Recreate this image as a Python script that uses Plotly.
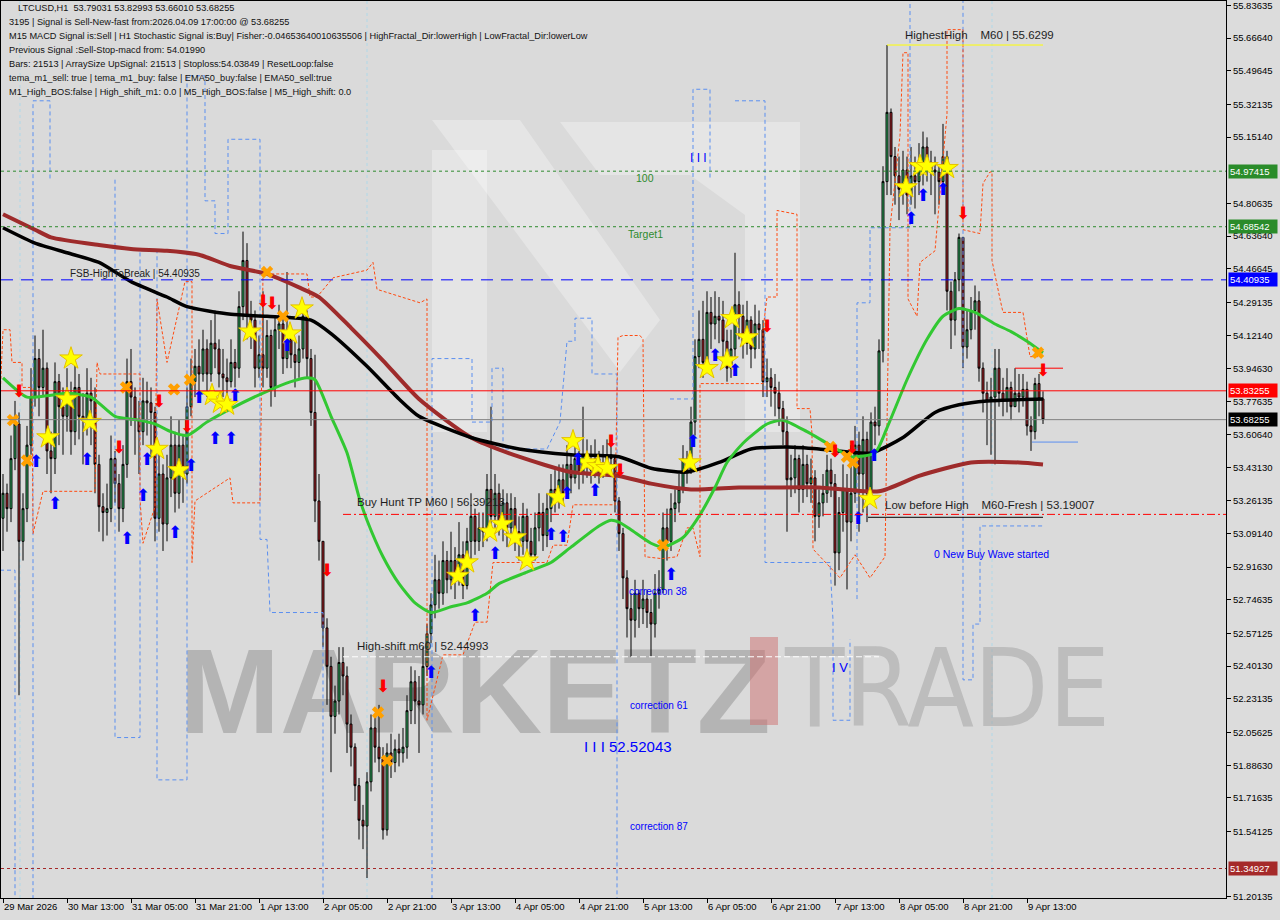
import plotly.graph_objects as go

# ---------------- data (hourly bars, bar 0 = 29 Mar 2026 21:00) ----------------
first_open = 53.17
close = [
    53.30, 53.22, 53.48, 53.66, 53.05, 53.22, 53.55, 53.80, 54.00, 53.85,
    53.95, 53.52, 53.48, 53.88, 53.75, 53.70, 53.80, 53.62, 53.85, 53.70,
    53.68, 53.82, 53.78, 53.45, 53.23, 53.20, 53.22, 53.48, 53.35, 53.22,
    53.45, 53.88, 53.80, 53.68, 53.62, 53.78, 53.77, 53.72, 53.17, 53.40,
    53.14, 53.38, 53.55, 53.30, 53.55, 53.40, 53.75, 53.88, 53.96, 53.92,
    54.05, 53.92, 54.08, 54.05, 53.92, 53.90, 53.88, 53.98, 53.95, 54.27,
    54.51, 54.22, 54.20, 53.95, 54.02, 53.95, 54.12, 53.85, 54.15, 54.18,
    54.00, 54.10, 54.02, 53.98, 54.05, 54.22, 54.00, 53.72, 53.26, 53.05,
    52.60, 52.40, 52.14, 52.22, 52.42, 52.35, 52.10, 51.98, 51.78, 51.60,
    51.57, 51.80, 52.08, 51.98, 51.92, 51.55, 51.95, 51.90, 51.97, 51.95,
    51.98, 52.17, 52.32, 52.22, 52.20, 52.40, 52.57, 52.72, 52.85, 52.78,
    52.95, 52.85, 52.95, 52.88, 52.98, 52.82, 53.05, 53.18, 53.05, 53.12,
    53.10, 53.32, 53.18, 53.30, 53.15, 53.25, 53.12, 53.22, 53.10, 53.05,
    53.18, 53.05, 52.98, 53.12, 53.20, 53.08, 53.22, 53.32, 53.28, 53.37,
    53.30, 53.45, 53.38, 53.48, 53.40, 53.50, 53.45, 53.42, 53.48, 53.40,
    53.45, 53.50, 53.48, 53.26, 53.09, 52.86, 52.70, 52.64, 52.78, 52.70,
    52.75, 52.68, 52.62, 52.78, 52.80, 53.12, 53.05, 53.22, 53.25, 53.32,
    53.48, 53.42, 53.67, 54.01, 54.10, 53.98, 54.24, 54.18, 54.22, 54.20,
    54.09, 53.95, 54.05, 54.28, 54.22, 54.08, 54.20, 54.05, 54.18, 54.15,
    53.88, 53.90, 53.85, 53.82, 53.74, 53.62, 53.37, 53.38, 53.48, 53.32,
    53.45, 53.35, 53.38, 53.18, 53.25, 53.30, 53.42, 53.35, 52.99, 53.20,
    53.32, 53.15, 53.30, 53.55, 53.40, 53.58, 53.30, 53.67, 53.65, 54.04,
    54.92, 55.28, 55.05, 54.95, 54.88, 54.98, 54.85, 54.95, 54.92, 54.98,
    55.10, 55.02, 54.98, 54.97, 54.92, 55.05, 54.35, 54.20, 54.41, 54.63,
    54.06, 54.15, 54.25, 54.30, 53.95, 53.82, 53.78, 53.80, 53.95, 53.82,
    53.78, 53.85, 53.75, 53.82, 53.80, 53.84, 53.65, 53.62, 53.87, 53.79031,
    53.68255,
]
high = [
    53.40, 53.35, 53.60, 53.78, 53.72, 53.30, 53.65, 53.95, 54.12, 54.05,
    54.15, 53.98, 53.62, 53.98, 53.92, 53.85, 53.95, 53.88, 54.00, 53.92,
    53.82, 53.95, 53.90, 53.85, 53.50, 53.30, 53.35, 53.60, 53.52, 53.40,
    53.55, 54.00, 54.05, 53.85, 53.78, 53.90, 53.88, 53.85, 53.75, 53.55,
    53.45, 53.50, 53.70, 53.62, 53.68, 53.60, 53.85, 54.00, 54.05, 54.10,
    54.15, 54.10, 54.20, 54.25, 54.10, 54.05, 54.00, 54.10, 54.05, 54.35,
    54.66, 54.60, 54.30, 54.25, 54.12, 54.35, 54.20, 54.15, 54.22, 54.28,
    54.22, 54.45, 54.15, 54.10, 54.12, 54.30, 54.25, 54.05, 54.02, 53.40,
    53.05, 52.65, 52.45, 52.30, 52.50, 52.50, 52.40, 52.15, 52.00, 51.82,
    51.68, 51.85, 52.15, 52.15, 52.20, 51.98, 52.00, 52.05, 52.02, 52.05,
    52.08, 52.25, 52.40, 52.38, 52.35, 52.50, 52.62, 52.78, 52.98, 52.95,
    53.05, 53.00, 53.10, 53.02, 53.15, 53.05, 53.12, 53.30, 53.22, 53.20,
    53.20, 53.40, 53.75, 53.40, 53.35, 53.32, 53.30, 53.30, 53.28, 53.18,
    53.25, 53.22, 53.12, 53.20, 53.30, 53.25, 53.30, 53.40, 53.42, 53.45,
    53.45, 53.55, 53.50, 53.58, 53.52, 53.75, 53.58, 53.55, 53.58, 53.52,
    53.55, 53.58, 53.60, 53.50, 53.28, 53.12, 52.90, 52.78, 52.85, 52.80,
    52.85, 52.80, 52.75, 52.88, 52.90, 53.20, 53.22, 53.30, 53.32, 53.40,
    53.55, 53.52, 53.75, 54.10, 54.25, 54.30, 54.35, 54.32, 54.35, 54.32,
    54.30, 54.15, 54.15, 54.55, 54.35, 54.28, 54.30, 54.22, 54.28, 54.25,
    54.20, 54.00, 53.95, 53.92, 53.88, 53.78, 53.70, 53.50, 53.55, 53.50,
    53.55, 53.50, 53.48, 53.42, 53.32, 53.40, 53.50, 53.48, 53.40, 53.28,
    53.45, 53.40, 53.55, 53.65, 53.62, 53.70, 53.62, 53.72, 53.75, 54.10,
    55.00, 55.63, 55.30, 55.10, 55.05, 55.08, 55.05, 55.10, 55.05, 55.12,
    55.18, 55.15, 55.08, 55.05, 55.00, 55.22, 55.08, 54.40, 54.45, 54.65,
    54.63, 54.25, 54.32, 54.38, 54.35, 53.98, 53.88, 53.90, 54.05, 54.05,
    53.90, 53.95, 53.88, 53.95, 53.92, 53.92, 53.88, 53.70, 53.90, 53.92,
    53.82993,
]
low = [
    53.00, 53.10, 53.15, 53.42, 52.25, 52.95, 53.15, 53.50, 53.75, 53.70,
    53.80, 53.40, 53.30, 53.40, 53.55, 53.50, 53.62, 53.50, 53.55, 53.58,
    53.45, 53.60, 53.55, 53.30, 53.10, 53.05, 53.08, 53.15, 53.25, 53.10,
    53.15, 53.38, 53.65, 53.50, 53.40, 53.55, 53.60, 53.50, 53.05, 53.10,
    53.00, 53.05, 53.28, 53.20, 53.22, 53.25, 53.35, 53.70, 53.80, 53.82,
    53.88, 53.80, 53.88, 53.95, 53.85, 53.80, 53.78, 53.85, 53.85, 53.90,
    54.20, 54.10, 54.05, 53.85, 53.90, 53.85, 53.90, 53.75, 53.80, 54.05,
    53.92, 53.95, 53.95, 53.85, 53.90, 54.00, 53.90, 53.65, 53.15, 52.95,
    52.50, 52.20, 51.85, 52.05, 52.15, 52.25, 51.95, 51.88, 51.70, 51.50,
    51.45, 51.30, 51.75, 51.90, 51.85, 51.50, 51.52, 51.82, 51.85, 51.88,
    51.90, 51.92, 52.10, 52.10, 51.95, 52.15, 52.35, 52.52, 52.65, 52.70,
    52.72, 52.78, 52.80, 52.75, 52.82, 52.75, 52.80, 52.95, 52.98, 53.00,
    53.02, 53.05, 53.10, 53.12, 53.08, 53.05, 53.02, 53.05, 53.00, 52.95,
    52.98, 52.95, 52.92, 52.95, 53.05, 53.00, 53.02, 53.15, 53.20, 53.22,
    53.25, 53.28, 53.30, 53.35, 53.32, 53.35, 53.38, 53.35, 53.38, 53.35,
    53.38, 53.40, 53.40, 53.20, 53.00, 52.75, 52.55, 52.45, 52.55, 52.60,
    52.62, 52.60, 52.45, 52.55, 52.70, 52.78, 52.95, 53.00, 53.15, 53.20,
    53.30, 53.35, 53.40, 53.60, 53.95, 53.90, 53.95, 54.05, 54.10, 54.08,
    54.00, 53.88, 53.90, 54.00, 54.10, 54.00, 54.02, 53.95, 54.00, 54.05,
    53.80, 53.80, 53.75, 53.70, 53.65, 53.55, 53.10, 53.28, 53.30, 53.20,
    53.25, 53.28, 53.25, 53.05, 53.12, 53.18, 53.25, 53.28, 52.82, 52.90,
    53.10, 52.80, 53.05, 53.25, 53.10, 53.20, 53.15, 53.25, 53.55, 53.60,
    53.98, 54.85, 54.85, 54.80, 54.72, 54.80, 54.75, 54.80, 54.78, 54.85,
    54.90, 54.92, 54.85, 54.75, 54.80, 54.88, 54.25, 54.05, 54.12, 54.35,
    53.95, 54.00, 54.10, 54.15, 53.88, 53.72, 53.55, 53.50, 53.45, 53.75,
    53.70, 53.72, 53.68, 53.75, 53.72, 53.75, 53.60, 53.52, 53.58, 53.70,
    53.66010,
]
bar_index = list(range(len(close)))
open_ = [first_open] + close[:-1]

# moving averages (read at sample bars)
ma_black_bar = [0, 8, 16, 24, 32, 41, 46, 57, 66, 77, 82, 91, 99, 104, 117, 129, 142, 154, 162, 171,
                179, 187, 196, 204, 217, 225, 233, 239, 246, 260]
ma_black_val = [54.68, 54.60, 54.55, 54.50, 54.40, 54.32, 54.27, 54.23, 54.22, 54.20, 54.13, 53.96,
                53.79, 53.70, 53.59, 53.53, 53.50, 53.49, 53.43, 53.41, 53.46, 53.53, 53.54, 53.53,
                53.51, 53.59, 53.72, 53.76, 53.78, 53.79]
ma_brown_bar = [0, 8, 12, 24, 32, 41, 49, 57, 66, 74, 79, 87, 95, 104, 117, 129, 142, 154, 162, 172,
                184, 192, 204, 219, 229, 242, 254, 260]
ma_brown_val = [54.75, 54.67, 54.63, 54.59, 54.57, 54.56, 54.54, 54.48, 54.44, 54.37, 54.32, 54.16,
                53.99, 53.79, 53.59, 53.49, 53.41, 53.39, 53.35, 53.32, 53.33, 53.33, 53.33, 53.31,
                53.39, 53.46, 53.46, 53.45]
ma_green_bar = [0, 6, 12, 16, 22, 28, 34, 38, 42, 46, 51, 57, 66, 72, 76, 78, 82, 86, 89, 91,
                95, 99, 103, 107, 112, 116, 121, 124, 131, 137, 142, 149, 152, 154, 157, 162, 165, 170,
                174, 178, 181, 185, 191, 195, 201, 206, 212, 218, 221, 226, 231, 235, 239, 243, 248,
                252, 256, 260]
ma_green_val = [53.90, 53.80, 53.81, 53.82, 53.80, 53.70, 53.68, 53.66, 53.62, 53.60, 53.67, 53.74,
                53.83, 53.88, 53.90, 53.89, 53.70, 53.51, 53.28, 53.16, 52.97, 52.83, 52.73, 52.68,
                52.71, 52.73, 52.78, 52.83, 52.89, 52.94, 53.02, 53.13, 53.16, 53.15, 53.11, 53.04,
                53.02, 53.07, 53.18, 53.33, 53.46, 53.56, 53.66, 53.68, 53.62, 53.56, 53.49, 53.51,
                53.64, 53.89, 54.10, 54.22, 54.26, 54.24, 54.18, 54.14, 54.09, 54.03]

# step channel lines (None = break)
blue_step_bar = [-0.75, 3, 3, None,
                 7.5, 7.5, 11.75, 11.75, None,
                 28, 28, 34.25, 34.25, 38.5, 38.5, 46, 46, 50.5, 50.5, 53, 53, 56.25, 56.25, 64.25,
                 64.25, 66, 66.75, 80, 80, None,
                 107.25, 107.25, 117.25, 117.25, 122.25, 122.25, 125, 125, 136, 139.25, 141, 143, 143,
                 147.25, 147.25, 153.5, 153.5, None,
                 166.75, 172.5, 172.5, 176.75, 176.75, None,
                 183, 190.5, 190.5, 206.75, 207.5, 207.5, 211.75, 211.75, None,
                 213.5, 213.5, 216.75, 216.75, 226.75, 226.75, None,
                 240, 240, 242.5, 242.5, 244.25, 244.25, 260]
blue_step_val = [52.90, 52.90, 51.19, None,
                 51.19, 55.34, 55.34, 54.93, None,
                 54.93, 52.03, 52.03, 54.56, 54.56, 51.81, 51.81, 55.47, 55.47, 54.82, 54.82, 54.65,
                 54.65, 55.14, 55.14, 53.06, 53.06, 52.68, 52.68, 51.19, None,
                 51.19, 54.00, 54.00, 53.67, 53.67, 53.95, 53.95, 53.53, 53.53, 53.67, 54.09, 54.09,
                 54.21, 54.21, 53.92, 53.92, 51.19, None,
                 53.79, 53.79, 55.40, 55.40, 54.93, None,
                 55.34, 55.34, 52.94, 52.94, 52.64, 52.12, 52.12, 52.54, None,
                 52.75, 54.29, 54.29, 54.68, 54.68, 55.87, None,
                 55.87, 52.33, 52.33, 52.62, 52.62, 53.13, 53.13]
orange_step_bar = [-0.75, 0, 1.75, 2.25, 4.75, 4.75, 7.25, 7.5, 10, 23, 23.5, 24.25, 34.25, 34.25, 35,
                   38, 38.5, 41, 45.5, 47.25, 47.25, 48, 56.75, 57.5, 64.25, 65, 76, 76.75, 78.5,
                   82.5, 91, 92.5, 93.5, 104.25, 106, 106, 110, 115, 118, 121, 122.5, 136, 137.5, 141,
                   142.5, 153, 153.75, 155, 159.25, 160, 160.5, 164.75, 168.5, 171, 172.5, 174.25,
                   174.25, 190, 190, 191, 193.5, 193.5, 198.5, 198.5, 201.75, 202.25, 202.5, 209.25,
                   213, 216.75, 220.5, 221.75, 224.25, 225, 226.25, 226.25, 228.5, 229.25, 233, 236,
                   236, 240, 240, 244.25, 245, 246.75, 247.25, 247.25, 249.25, 250, 255, 256.75, 259.25]
orange_step_val = [53.79, 54.15, 54.15, 53.98, 53.98, 53.85, 53.85, 53.09, 53.31, 53.31, 53.98, 53.92,
                   53.92, 53.27, 53.04, 53.23, 54.31, 53.98, 54.40, 54.40, 52.94, 53.26, 53.38, 53.25,
                   53.25, 54.44, 54.44, 54.32, 54.32, 54.42, 54.46, 54.50, 54.36, 54.29, 54.31, 52.12,
                   52.46, 52.46, 52.63, 52.63, 52.94, 52.94, 53.03, 53.03, 53.24, 53.24, 54.11, 54.12,
                   54.12, 54.10, 52.97, 52.96, 52.97, 53.12, 53.12, 52.97, 53.87, 53.87, 54.15, 54.32,
                   54.32, 54.77, 54.75, 53.74, 53.74, 53.61, 53.01, 52.86, 52.98, 52.86, 52.97, 54.68,
                   55.16, 55.59, 55.59, 54.31, 54.22, 54.50, 54.56, 55.27, 55.71, 55.71, 54.67, 54.65,
                   54.91, 54.97, 54.97, 54.51, 54.31, 54.24, 54.24, 54.01, 54.01]

# signal markers
star_bar = [17, 11.25, 16, 21.75, 38.5, 44, 52.25, 54.25, 56, 61.75, 71.75, 74.75, 113.75, 116, 121.75,
            124.75, 128, 131, 138.75, 142.5, 146, 148.75, 151, 171.75, 176, 181, 182.25, 186, 216.75,
            225.75, 229.25, 231, 236]
star_val = [54.00, 53.59, 53.79, 53.67, 53.53, 53.42, 53.81, 53.77, 53.76, 54.14, 54.13, 54.26, 52.87,
            52.94, 53.10, 53.14, 53.07, 52.95, 53.28, 53.57, 53.46, 53.44, 53.43, 53.46, 53.95, 53.99,
            54.21, 54.11, 53.27, 54.89, 55.00, 55.00, 54.99]
up_bar = [8.25, 13, 21, 31, 35, 36, 43, 47, 49, 53, 57, 58, 71, 107, 118, 123, 137, 140, 141, 143.75,
          148, 167, 172.5, 178, 183, 213.75, 217.75, 227, 230, 235]
up_val = [53.46, 53.24, 53.47, 53.06, 53.28, 53.47, 53.09, 53.44, 53.79, 53.58, 53.58, 53.80, 54.06,
          52.36, 52.66, 52.98, 53.08, 53.07, 53.29, 53.47, 53.31, 52.87, 53.56, 54.01, 53.93, 53.16,
          53.49, 54.72, 54.84, 54.87]
down_bar = [4, 29, 39, 46, 65, 67.25, 81, 95, 152, 154.25, 191, 208, 212.25, 240, 260]
down_val = [53.82, 53.53, 53.77, 53.64, 54.29, 54.28, 52.89, 52.29, 53.56, 53.41, 54.16, 53.51, 53.53,
            54.75, 53.93]
cross_bar = [2.5, 6, 30.75, 42.75, 46.75, 66, 70, 93.75, 96, 165, 206.75, 211, 212.5, 258.75]
cross_val = [53.68, 53.47, 53.85, 53.84, 53.89, 54.45, 54.22, 52.16, 51.91, 53.03, 53.54, 53.49, 53.46,
             54.03]

# price levels
level_100 = 54.97415
level_target1 = 54.68542
level_fsb = 54.40935
level_signal = 53.83255
level_last = 53.68255
level_buy_tp = 53.19007
level_low_before_high = 53.175
level_high_shift = 52.44993
level_bottom = 51.34927
level_highest = 55.6299
level_short_red = 53.95
level_short_blue = 53.566
separator_bars = [4.25, 91, 247.25]

# axes
x_tick_bars = [0, 16, 32, 48, 64, 80, 96, 112, 128, 144, 160, 176, 192, 208, 224, 240, 256]
x_tick_labels = ["29 Mar 2026", "30 Mar 13:00", "31 Mar 05:00", "31 Mar 21:00", "1 Apr 13:00",
                 "2 Apr 05:00", "2 Apr 21:00", "3 Apr 13:00", "4 Apr 05:00", "4 Apr 21:00",
                 "5 Apr 13:00", "6 Apr 05:00", "6 Apr 21:00", "7 Apr 13:00", "8 Apr 05:00",
                 "8 Apr 21:00", "9 Apr 13:00"]
y_ticks = [55.83635, 55.66640, 55.49645, 55.32135, 55.15140, 54.80635, 54.63640, 54.46645, 54.29135,
           54.12140, 53.94630, 53.77635, 53.60640, 53.43130, 53.26135, 53.09140, 52.91630, 52.74635,
           52.57125, 52.40130, 52.23135, 52.05625, 51.88630, 51.71635, 51.54125, 51.20135]
axis_boxes = [(54.97415, "#2a8c2a"), (54.68542, "#2a8c2a"), (54.40935, "#0000ff"),
              (53.83255, "#ff0000"), (53.68255, "#000000"), (51.34927, "#a52a2a")]
info_lines = [
    "LTCUSD,H1  53.79031 53.82993 53.66010 53.68255",
    "3195 | Signal is Sell-New-fast from:2026.04.09 17:00:00 @ 53.68255",
    "M15 MACD Signal is:Sell | H1 Stochastic Signal is:Buy| Fisher:-0.04653640010635506 | HighFractal_Dir:lowerHigh | LowFractal_Dir:lowerLow",
    "Previous Signal :Sell-Stop-macd from: 54.01990",
    "Bars: 21513 | ArraySize UpSignal: 21513 | Stoploss:54.03849 | ResetLoop:false",
    "tema_m1_sell: true | tema_m1_buy: false | EMA50_buy:false | EMA50_sell:true",
    "M1_High_BOS:false | High_shift_m1: 0.0 | M5_High_BOS:false | M5_High_shift: 0.0",
]

# ---------------- figure ----------------
FONT = "Liberation Sans, Arial, sans-serif"
W, H = 1280, 920
ML, MR, MT, MB = 1, 54, 1, 22
PW, PH = W - ML - MR, H - MT - MB


def paper(x, y):
    return (x - ML) / PW, 1 - (y - MT) / PH


fig = go.Figure()

fig.add_trace(go.Scatter(x=blue_step_bar, y=blue_step_val, mode="lines",
                         line=dict(color="#5b8ff0", width=1, dash="4px,3px"),
                         hoverinfo="skip", showlegend=False))
fig.add_trace(go.Scatter(x=orange_step_bar, y=orange_step_val, mode="lines",
                         line=dict(color="#ff4a10", width=1, dash="3px,2px"),
                         hoverinfo="skip", showlegend=False))

fig.add_trace(go.Candlestick(
    x=bar_index, open=open_, high=high, low=low, close=close,
    increasing=dict(line=dict(color="black", width=1), fillcolor="#36c26a"),
    decreasing=dict(line=dict(color="black", width=1), fillcolor="#c0282d"),
    whiskerwidth=0, showlegend=False, hoverinfo="skip"))

fig.add_trace(go.Scatter(x=ma_brown_bar, y=ma_brown_val, mode="lines",
                         line=dict(color="#9e2b2b", width=4, shape="spline", smoothing=0.6),
                         hoverinfo="skip", showlegend=False))
fig.add_trace(go.Scatter(x=ma_black_bar, y=ma_black_val, mode="lines",
                         line=dict(color="#000000", width=3.5, shape="spline", smoothing=0.6),
                         hoverinfo="skip", showlegend=False))
fig.add_trace(go.Scatter(x=ma_green_bar, y=ma_green_val, mode="lines",
                         line=dict(color="#32c832", width=3, shape="spline", smoothing=0.6),
                         hoverinfo="skip", showlegend=False))

fig.add_trace(go.Scatter(x=star_bar, y=star_val, mode="markers",
                         marker=dict(symbol="star", size=17, color="#ffff00",
                                     line=dict(color="#e6c200", width=1)),
                         hoverinfo="skip", showlegend=False))
fig.add_trace(go.Scatter(x=cross_bar, y=cross_val, mode="markers",
                         marker=dict(symbol="x", size=11, color="#ffa000", line=dict(width=0)),
                         hoverinfo="skip", showlegend=False))
fig.add_trace(go.Scatter(x=up_bar, y=up_val, mode="text", text=["\u2b06"] * len(up_bar),
                         textposition="middle center",
                         textfont=dict(family="DejaVu Sans", size=17, color="#0000ff"),
                         hoverinfo="skip", showlegend=False))
fig.add_trace(go.Scatter(x=down_bar, y=down_val, mode="text", text=["\u2b07"] * len(down_bar),
                         textposition="middle center",
                         textfont=dict(family="DejaVu Sans", size=17, color="#ff0000"),
                         hoverinfo="skip", showlegend=False))

shapes = []


def hline(y, x0, x1, color, width=1, dash="solid", layer="above", xref="x"):
    shapes.append(dict(type="line", xref=xref, yref="y", x0=x0, x1=x1, y0=y, y1=y,
                       line=dict(color=color, width=width, dash=dash), layer=layer))


hline(level_100, 0, 1, "#2e8b2e", 1, "dot", xref="paper")
hline(level_target1, 0, 1, "#2e8b2e", 1, "dot", xref="paper")
hline(level_fsb, 0, 1, "#0000ff", 1, "12px,8px", xref="paper")
hline(level_signal, 0, 1, "#ff0000", 1, xref="paper")
hline(level_last, 0, 1, "#808080", 1, xref="paper")
hline(level_bottom, 0, 1, "#a52a2a", 1, "dot", xref="paper")
hline(level_buy_tp, 85, 305.75, "#ff0000", 1, "8px,3px,2px,3px")
hline(level_high_shift, 85, 219, "#ffffff", 1, "6px,3px")
hline(level_highest, 221, 260, "#ffff00", 1)
hline(level_low_before_high, 216.25, 260, "#000000", 1)
hline(level_short_red, 253, 265, "#ff0000", 1)
hline(level_short_blue, 257.25, 268.75, "#5b8ff0", 1)
for sb in separator_bars:
    shapes.append(dict(type="line", xref="x", yref="paper", x0=sb, x1=sb, y0=0, y1=1,
                       line=dict(color="#b0d8e8", width=1, dash="dot"), layer="below"))


# watermark logo (decoration, paper coordinates)
def poly(points):
    pts = [paper(px, py) for px, py in points]
    return "M " + " L ".join(f"{a:.5f},{b:.5f}" for a, b in pts) + " Z"


for pts in [
    [(432, 150), (487, 150), (487, 432), (432, 432)],
    [(432, 120), (520, 120), (660, 320), (620, 372)],
    [(560, 122), (800, 122), (800, 432), (745, 432), (745, 215), (690, 175), (600, 175)],
]:
    shapes.append(dict(type="path", xref="paper", yref="paper", path=poly(pts),
                       fillcolor="rgba(255,255,255,0.3)", line=dict(width=0), layer="below"))

x0, y0 = paper(170, 625)
x1, y1 = paper(780, 735)
shapes.append(dict(type="rect", xref="paper", yref="paper", x0=x0, y0=y1, x1=x1, y1=y0,
                   line=dict(width=0), fillcolor="rgba(0,0,0,0)", layer="below",
                   label=dict(text="MARKETZ", textposition="middle center",
                              font=dict(family=FONT, size=121, color="rgba(150,150,150,0.55)",
                                        weight="bold"))))
x0, y0 = paper(750, 637)
x1, y1 = paper(778, 725)
shapes.append(dict(type="rect", xref="paper", yref="paper", x0=x0, y0=y1, x1=x1, y1=y0,
                   line=dict(width=0), fillcolor="rgba(205,110,110,0.5)", layer="below"))
x0, y0 = paper(785, 625)
x1, y1 = paper(1110, 735)
shapes.append(dict(type="rect", xref="paper", yref="paper", x0=x0, y0=y1, x1=x1, y1=y0,
                   line=dict(width=0), fillcolor="rgba(0,0,0,0)", layer="below",
                   label=dict(text="TRADE", textposition="middle center",
                              font=dict(family="Liberation Sans Narrow, DejaVu Sans Condensed, Liberation Sans",
                                        size=108, color="rgba(160,160,160,0.5)"))))

annotations = []


def note(x, y, text, color="#1e1e1e", size=11, xanchor="left"):
    annotations.append(dict(x=x, y=y, xref="x", yref="y", text=text, showarrow=False,
                            xanchor=xanchor, yanchor="middle",
                            font=dict(family=FONT, size=size, color=color)))


NB = "\u00a0"
note(16.25, 54.44, "FSB-HighToBreak | 54.40935", size=10)
note(160.5, 54.939, "100", color="#2e8b2e", size=10.5, xanchor="center")
note(160.5, 54.648, "Target1", color="#2e8b2e", size=10.5, xanchor="center")
note(88, 53.255, "Buy Hunt TP M60 | 56.39213", size=11.5)
note(88, 52.506, "High-shift m60 | 52.44993", size=11.5)
note(225, 55.682, f"HighestHigh{NB*4}M60 | 55.6299", size=11.5)
note(220, 53.239, f"Low before High{NB*4}M60-Fresh | 53.19007", size=11.5)
note(232.25, 52.984, "0 New Buy Wave started", color="#0000ff", size=10.5)
note(156, 52.787, "correction 38", color="#0000ff", size=10)
note(156.25, 52.199, "correction 61", color="#0000ff", size=10)
note(156.25, 51.570, "correction 87", color="#0000ff", size=10)
note(144.75, 51.986, f"I{NB}I{NB}I{NB}52.52043", color="#0000ff", size=15)
note(171.25, 55.043, f"I{NB}I{NB}I", color="#0000ff", size=12)
note(206.75, 52.392, f"I{NB}V", color="#0000ff", size=13)

for k, line in enumerate(info_lines):
    xp, yp = paper(16 if k == 0 else 7, 8 + 14 * k)
    annotations.append(dict(x=xp, y=yp, xref="paper", yref="paper", text=line.replace("  ", NB * 2),
                            showarrow=False, xanchor="left", yanchor="middle",
                            font=dict(family=FONT, size=9.2, color="#111111")))

for val, col in axis_boxes:
    annotations.append(dict(x=1, y=val, xref="paper", yref="y", text=f"{val:.5f}", showarrow=False,
                            xanchor="left", yanchor="middle", xshift=2, bgcolor=col, width=46,
                            align="left", borderpad=1,
                            font=dict(family=FONT, size=9.5, color="#ffffff")))

fig.update_layout(
    width=W, height=H,
    margin=dict(l=ML, r=MR, t=MT, b=MB, autoexpand=False),
    paper_bgcolor="#dcdcdc", plot_bgcolor="#dadada",
    showlegend=False, shapes=shapes, annotations=annotations,
    font=dict(family=FONT, size=9.5, color="#000000"),
    xaxis=dict(range=[-0.5, 305.75], tickvals=x_tick_bars, ticktext=x_tick_labels, tickangle=0,
               ticks="outside", ticklen=4, tickcolor="#000", showgrid=False, zeroline=False,
               showline=True, linecolor="#000", linewidth=1, mirror=True, automargin=False,
               rangeslider=dict(visible=False), ticklabelposition="outside right",
               ticklabeloverflow="allow",
               tickfont=dict(family=FONT, size=9.5, color="#000")),
    yaxis=dict(range=[51.196, 55.8588], side="right", tickvals=y_ticks, tickformat=".5f",
               ticks="outside", ticklen=4, tickcolor="#000", showgrid=False, zeroline=False,
               showline=True, linecolor="#000", linewidth=1, mirror=True, automargin=False,
               ticklabeloverflow="allow",
               tickfont=dict(family=FONT, size=9.5, color="#000")),
)

fig.write_html("out.html", config={"displayModeBar": False, "staticPlot": True}, post_script=(
    "document.body.style.margin='0';document.body.style.padding='0';"
    "document.body.style.overflow='hidden';document.body.style.background='#dcdcdc';"))
